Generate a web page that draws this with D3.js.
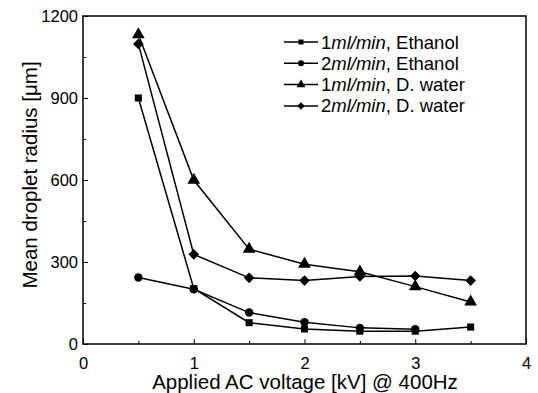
<!DOCTYPE html>
<html>
<head>
<meta charset="utf-8">
<script src="https://d3js.org/d3.v7.min.js"></script>
<style>
  body { margin: 0; background: #fff; }
  svg { font-family: Arial, "Liberation Sans", sans-serif; }
</style>
</head>
<body>
<script>
// chart data
var xVals = [0.5, 1.0, 1.5, 2.0, 2.5, 3.0, 3.5];
var ethanol1 = [900, 203, 78, 55, 47, 47, 62];
var ethanol2 = [243, 200, 115, 80, 59, 54];
var water1 = [1132, 600, 347, 292, 264, 210, 154];
var water2 = [1098, 328, 242, 232, 247, 249, 232];
var seriesNames = ["1", "2", "1", "2"];
var seriesLiquids = [", Ethanol", ", Ethanol", ", D. water", ", D. water"];
var xTicks = [0, 1, 2, 3, 4];
var yTicks = [0, 300, 600, 900, 1200];

var width = 538, height = 393;
var margin = {left: 83, top: 16, right: 12, bottom: 49};
var font = "Arial, 'Liberation Sans', sans-serif";

var svg = d3.select("body").append("svg")
  .attr("width", width)
  .attr("height", height);

var x = d3.scaleLinear().domain([0, 4]).range([margin.left, width - margin.right]);
var y = d3.scaleLinear().domain([0, 1200]).range([height - margin.bottom, margin.top]);

// frame
svg.append("rect")
  .attr("x", x(0)).attr("y", y(1200))
  .attr("width", x(4) - x(0)).attr("height", y(0) - y(1200))
  .attr("fill", "none").attr("stroke", "#000").attr("stroke-width", 1.5);

// x axis (ticks inward)
var xAxis = d3.axisBottom(x).tickValues(xTicks).tickSize(-5).tickPadding(13).tickFormat(d3.format("d"));
var xg = svg.append("g").attr("transform", "translate(0," + y(0) + ")").call(xAxis);
xg.select(".domain").remove();
xg.selectAll("text").attr("font-size", 16.5).attr("font-family", font);
var xMinor = d3.axisBottom(x).tickValues([0.5, 1.5, 2.5, 3.5]).tickSize(-3).tickFormat("");
var xmg = svg.append("g").attr("transform", "translate(0," + y(0) + ")").call(xMinor);
xmg.select(".domain").remove();

// y axis (ticks inward)
var yAxis = d3.axisLeft(y).tickValues(yTicks).tickSize(-5).tickPadding(5).tickFormat(d3.format("d"));
var yg = svg.append("g").attr("transform", "translate(" + x(0) + ",0)").call(yAxis);
yg.select(".domain").remove();
yg.selectAll("text").attr("font-size", 16.5).attr("font-family", font);
var yMinor = d3.axisLeft(y).tickValues([150, 450, 750, 1050]).tickSize(-3).tickFormat("");
var ymg = svg.append("g").attr("transform", "translate(" + x(0) + ",0)").call(yMinor);
ymg.select(".domain").remove();

// axis titles
svg.append("text")
  .attr("x", 305).attr("y", 389)
  .attr("text-anchor", "middle").attr("font-size", 20.5)
  .text("Applied AC voltage [kV] @ 400Hz");

svg.append("text")
  .attr("transform", "translate(37,175) rotate(-90)")
  .attr("text-anchor", "middle").attr("font-size", 20.5)
  .text("Mean droplet radius [\u03bcm]");

// series
var symbols = [d3.symbolSquare, d3.symbolCircle, d3.symbolTriangle, d3.symbolSquare];
var sizes = [50, 56, 70, 56];
var rotations = [0, 0, 0, 45];
var allSeries = [ethanol1, ethanol2, water1, water2];

var line = d3.line()
  .x(function(d) { return x(d[0]); })
  .y(function(d) { return y(d[1]); });

allSeries.forEach(function(vals, i) {
  var pts = vals.map(function(v, j) { return [xVals[j], v]; });
  svg.append("path")
    .datum(pts)
    .attr("d", line)
    .attr("fill", "none")
    .attr("stroke", "#000")
    .attr("stroke-width", 1.5);
  svg.selectAll(".m" + i)
    .data(pts)
    .enter()
    .append("path")
    .attr("class", "m" + i)
    .attr("transform", function(d) {
      return "translate(" + x(d[0]) + "," + y(d[1]) + ") rotate(" + rotations[i] + ")";
    })
    .attr("d", d3.symbol().type(symbols[i]).size(sizes[i]))
    .attr("fill", "#000");
});

// legend
var legend = svg.append("g").attr("transform", "translate(284,42)");
seriesNames.forEach(function(n, i) {
  var row = legend.append("g").attr("transform", "translate(0," + (i * 21.3) + ")");
  row.append("line").attr("x1", 0).attr("x2", 34).attr("y1", 0).attr("y2", 0)
    .attr("stroke", "#000").attr("stroke-width", 1.5);
  row.append("path")
    .attr("transform", "translate(17,0) rotate(" + rotations[i] + ")")
    .attr("d", d3.symbol().type(symbols[i]).size(sizes[i] * 0.5))
    .attr("fill", "#000");
  var t = row.append("text").attr("x", 37).attr("y", 6.5).attr("font-size", 18.5);
  t.append("tspan").text(n);
  t.append("tspan").attr("font-style", "italic").text("ml/min");
  t.append("tspan").text(seriesLiquids[i]);
});
</script>
</body>
</html>
